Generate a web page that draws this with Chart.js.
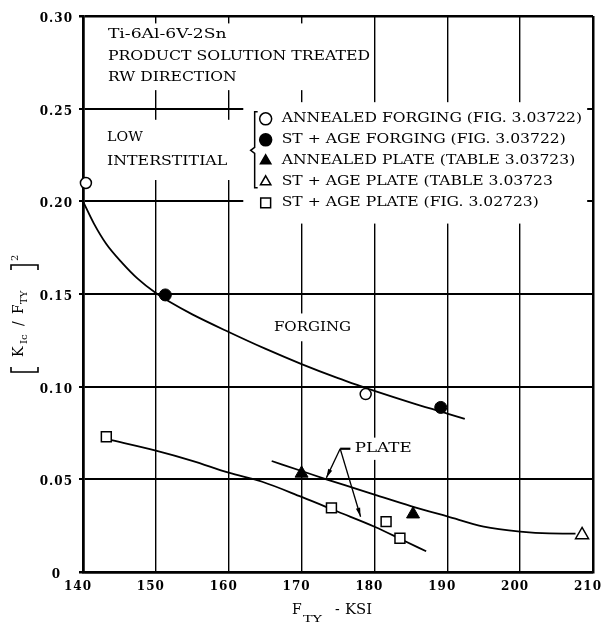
<!DOCTYPE html>
<html lang="en">
<head>
<meta charset="UTF-8">
<title>Ti-6Al-6V-2Sn - (KIc/FTY)^2 vs FTY</title>
<script src="https://cdn.jsdelivr.net/npm/chart.js@4.4.1/dist/chart.umd.min.js"></script>
<style>
    body { margin: 0; background: #fff; }
    canvas { display: block; }
</style>
</head>
<body>
<canvas id="grafico" width="602" height="624"></canvas>
<script>
    // eixo x: F_TY (ksi), eixo y: (KIc/FTY)^2
    var xTicks = [140, 150, 160, 170, 180, 190, 200, 210];
    var yTicks = [0, 0.05, 0.10, 0.15, 0.20, 0.25, 0.30];

    // pontos medidos
    var annealedForgingX = [140.4, 178.8];
    var annealedForgingY = [0.2099, 0.0960];
    var stAgeForgingX = [151.3, 189.1];
    var stAgeForgingY = [0.1495, 0.0888];
    var annealedPlateX = [170.0, 185.3];
    var annealedPlateY = [0.0532, 0.0312];
    var stAgePlateTabX = [208.5];
    var stAgePlateTabY = [0.0200];
    var stAgePlateFigX = [143.2, 174.1, 181.6, 183.5];
    var stAgePlateFigY = [0.0730, 0.0346, 0.0272, 0.0182];

    // curvas tracadas a mao
    var forgingCurveX = [140, 141.5, 143.2, 145.4, 147.5, 150, 152, 155, 160, 165, 170, 175, 178, 180, 185, 190, 192.4];
    var forgingCurveY = [0.200, 0.188, 0.177, 0.1667, 0.1583, 0.1505, 0.1455, 0.139, 0.1295, 0.1205, 0.1122, 0.1046, 0.1004, 0.0977, 0.0914, 0.0855, 0.0826];
    var plateUpperX = [165.9, 170, 173.4, 177, 180, 185, 190, 195, 200, 204, 207.6];
    var plateUpperY = [0.0599, 0.0545, 0.0500, 0.0455, 0.0418, 0.0356, 0.0300, 0.0245, 0.0218, 0.0208, 0.0207];
    var plateLowerX = [143.5, 150, 155, 160, 164.6, 170, 175, 180.1, 184, 187.1];
    var plateLowerY = [0.0715, 0.0655, 0.0600, 0.0536, 0.0487, 0.0405, 0.0325, 0.0243, 0.0170, 0.0112];

    function pontos(xs, ys) {
        return xs.map(function (x, i) { return { x: x, y: ys[i] }; });
    }

    var fonte = '"DejaVu Serif", "Liberation Serif", serif';

    // caixas brancas por tras dos textos [x0, x1, y0, y1] em unidades do grafico
    var caixasBrancas = [
        [142.2, 179.6, 0.2600, 0.2960],
        [142.2, 161.8, 0.2115, 0.2440],
        [162.0, 209.2, 0.1880, 0.2535],
        [165.6, 177.4, 0.1245, 0.1395],
        [175.1, 185.5, 0.0605, 0.0725]
    ];
    // textos [texto, x inicio, x fim, y]
    var notas = [
        ['Ti-6Al-6V-2Sn', 143.42, 159.7, 0.2898],
        ['PRODUCT SOLUTION TREATED', 143.42, 179.4, 0.2779],
        ['RW DIRECTION', 143.42, 161.1, 0.2666],
        ['LOW', 143.3, 148.2, 0.2342],
        ['INTERSTITIAL', 143.3, 159.8, 0.2213],
        ['FORGING', 166.2, 176.8, 0.1317],
        ['PLATE', 177.3, 185.1, 0.0665]
    ];
    var plateTraco = [175.3, 176.7, 0.0665];
    var plateSetas = [[173.4, 0.0508], [178.1, 0.0298]];

    function textoAjustado(ctx, txt, x, y, largura) {
        var m = ctx.measureText(txt).width;
        ctx.save();
        ctx.translate(x, y);
        ctx.scale(largura / m, 1);
        ctx.fillText(txt, 0, 0);
        ctx.restore();
    }

    function marcador(ctx, estilo, cheio, x, y, r) {
        ctx.beginPath();
        if (estilo === 'circle') {
            ctx.arc(x, y, r, 0, Math.PI * 2);
        } else if (estilo === 'triangle') {
            var w = r * Math.sqrt(3) / 2;
            ctx.moveTo(x, y - r);
            ctx.lineTo(x + w, y + r / 2);
            ctx.lineTo(x - w, y + r / 2);
            ctx.closePath();
        } else {
            var s = r * Math.SQRT1_2;
            ctx.rect(x - s, y - s, 2 * s, 2 * s);
        }
        ctx.fillStyle = cheio ? '#000' : '#fff';
        ctx.fill();
        ctx.lineWidth = 1.5;
        ctx.strokeStyle = '#000';
        ctx.stroke();
    }

    var anotacoes = {
        id: 'anotacoes',
        // rotulos dos eixos um pouco mais espacados, como na figura
        beforeUpdate: function (chart) { chart.ctx.letterSpacing = '1px'; },
        beforeDraw: function (chart) { chart.ctx.letterSpacing = '1px'; },
        beforeDatasetsDraw: function (chart) {
            var ctx = chart.ctx;
            var xs = chart.scales.x, ys = chart.scales.y;
            function px(v) { return xs.getPixelForValue(v); }
            function py(v) { return ys.getPixelForValue(v); }

            ctx.save();
            ctx.letterSpacing = '0px';
            ctx.fillStyle = '#fff';
            caixasBrancas.forEach(function (c) {
                ctx.fillRect(px(c[0]), py(c[3]), px(c[1]) - px(c[0]), py(c[2]) - py(c[3]));
            });

            ctx.fillStyle = '#000';
            ctx.textBaseline = 'middle';
            ctx.textAlign = 'left';
            ctx.font = '13px ' + fonte;
            notas.forEach(function (n) {
                textoAjustado(ctx, n[0], px(n[1]), py(n[3]), px(n[2]) - px(n[1]));
            });

            // traco e setas do PLATE
            ctx.strokeStyle = '#000';
            ctx.lineWidth = 2.2;
            ctx.beginPath();
            ctx.moveTo(px(plateTraco[0]), py(plateTraco[2]));
            ctx.lineTo(px(plateTraco[1]), py(plateTraco[2]));
            ctx.stroke();
            var x0 = px(plateTraco[0]), y0 = py(plateTraco[2]);
            ctx.lineWidth = 1.3;
            plateSetas.forEach(function (s) {
                var x1 = px(s[0]), y1 = py(s[1]);
                var ang = Math.atan2(y1 - y0, x1 - x0);
                ctx.beginPath();
                ctx.moveTo(x0, y0);
                ctx.lineTo(x1, y1);
                ctx.stroke();
                ctx.beginPath();
                ctx.moveTo(x1, y1);
                ctx.lineTo(x1 - 9 * Math.cos(ang) + 2.2 * Math.sin(ang), y1 - 9 * Math.sin(ang) - 2.2 * Math.cos(ang));
                ctx.lineTo(x1 - 9 * Math.cos(ang) - 2.2 * Math.sin(ang), y1 - 9 * Math.sin(ang) + 2.2 * Math.cos(ang));
                ctx.closePath();
                ctx.fill();
            });

            // legenda
            var lx = px(163.15), ly = py(0.2445), passo = 21;
            ctx.lineWidth = 1.5;
            ctx.beginPath();
            ctx.moveTo(lx + 6, ly - 7);
            ctx.lineTo(lx + 3, ly - 7);
            ctx.lineTo(lx + 3, ly + 1.5 * passo - 3);
            ctx.lineTo(lx - 1, ly + 1.5 * passo);
            ctx.lineTo(lx + 3, ly + 1.5 * passo + 3);
            ctx.lineTo(lx + 3, ly + 3 * passo + 6);
            ctx.lineTo(lx + 6, ly + 3 * passo + 6);
            ctx.stroke();

            var itens = chart.data.datasets.filter(function (d) { return !d.showLine; });
            var escala = (px(208.5) - (lx + 30)) / ctx.measureText(itens[0].label).width;
            itens.forEach(function (d, i) {
                var y = ly + i * passo;
                marcador(ctx, d.pointStyle, d.pointBackgroundColor === '#000', lx + 14, y, d.pointStyle === 'rect' ? 7 : 6);
                ctx.fillStyle = '#000';
                ctx.save();
                ctx.translate(lx + 30, y);
                ctx.scale(escala, 1);
                ctx.fillText(d.label, 0, 0);
                ctx.restore();
            });
            ctx.restore();
        },
        afterDraw: function (chart) {
            var ctx = chart.ctx;
            ctx.save();
            ctx.letterSpacing = '0px';
            ctx.fillStyle = '#000';
            ctx.strokeStyle = '#000';
            ctx.textBaseline = 'alphabetic';
            ctx.textAlign = 'left';

            // titulo do eixo y, girado
            ctx.save();
            ctx.translate(0, 376);
            ctx.rotate(-Math.PI / 2);
            ctx.lineWidth = 1.6;
            ctx.beginPath();
            ctx.moveTo(9, 11); ctx.lineTo(4, 11); ctx.lineTo(4, 38); ctx.lineTo(9, 38);
            ctx.moveTo(106, 11); ctx.lineTo(111, 11); ctx.lineTo(111, 38); ctx.lineTo(106, 38);
            ctx.stroke();
            ctx.font = '14px ' + fonte;
            ctx.fillText('K', 19, 23);
            ctx.fillText('/', 50, 23);
            ctx.fillText('F', 62, 23);
            ctx.font = '10px ' + fonte;
            ctx.fillText('Ic', 32, 27);
            ctx.fillText('TY', 72, 27);
            ctx.fillText('2', 115, 18);
            ctx.restore();

            // titulo do eixo x
            ctx.font = '14px ' + fonte;
            ctx.fillText('F', 292, 614);
            ctx.fillText('-', 335, 614);
            textoAjustado(ctx, 'KSI', 345, 614, 27);
            ctx.font = '10px ' + fonte;
            textoAjustado(ctx, 'TY', 303, 622, 19);
            ctx.restore();
        }
    };

    function larguraGrade(ctx, forte) {
        var v = ctx.tick ? ctx.tick.value : null;
        return (ctx.index === 0 || v === ctx.scale.max) ? 2.5 : forte;
    }

    var grafico = new Chart(document.getElementById('grafico'), {
        type: 'scatter',
        data: {
            datasets: [
                {
                    label: 'ANNEALED FORGING (FIG. 3.03722)',
                    data: pontos(annealedForgingX, annealedForgingY),
                    pointStyle: 'circle', pointRadius: 5.5,
                    pointBackgroundColor: '#fff', pointBorderColor: '#000', pointBorderWidth: 1.5,
                    showLine: false, clip: false, order: 0
                },
                {
                    label: 'ST + AGE FORGING (FIG. 3.03722)',
                    data: pontos(stAgeForgingX, stAgeForgingY),
                    pointStyle: 'circle', pointRadius: 6,
                    pointBackgroundColor: '#000', pointBorderColor: '#000', pointBorderWidth: 1,
                    showLine: false, clip: false, order: 0
                },
                {
                    label: 'ANNEALED PLATE (TABLE 3.03723)',
                    data: pontos(annealedPlateX, annealedPlateY),
                    pointStyle: 'triangle', pointRadius: 7.5,
                    pointBackgroundColor: '#000', pointBorderColor: '#000', pointBorderWidth: 1,
                    showLine: false, clip: false, order: 0
                },
                {
                    label: 'ST + AGE PLATE (TABLE 3.03723',
                    data: pontos(stAgePlateTabX, stAgePlateTabY),
                    pointStyle: 'triangle', pointRadius: 7.5,
                    pointBackgroundColor: '#fff', pointBorderColor: '#000', pointBorderWidth: 1.5,
                    showLine: false, clip: false, order: 0
                },
                {
                    label: 'ST + AGE PLATE (FIG. 3.02723)',
                    data: pontos(stAgePlateFigX, stAgePlateFigY),
                    pointStyle: 'rect', pointRadius: 7,
                    pointBackgroundColor: '#fff', pointBorderColor: '#000', pointBorderWidth: 1.5,
                    showLine: false, clip: false, order: 0
                },
                {
                    label: 'forging',
                    data: pontos(forgingCurveX, forgingCurveY),
                    showLine: true, pointRadius: 0, borderColor: '#000', borderWidth: 1.8,
                    cubicInterpolationMode: 'monotone', clip: false, order: 1
                },
                {
                    label: 'plate',
                    data: pontos(plateUpperX, plateUpperY),
                    showLine: true, pointRadius: 0, borderColor: '#000', borderWidth: 1.8,
                    cubicInterpolationMode: 'monotone', clip: false, order: 1
                },
                {
                    label: 'plate 2',
                    data: pontos(plateLowerX, plateLowerY),
                    showLine: true, pointRadius: 0, borderColor: '#000', borderWidth: 1.8,
                    cubicInterpolationMode: 'monotone', clip: false, order: 1
                }
            ]
        },
        options: {
            responsive: false,
            animation: false,
            devicePixelRatio: 1,
            layout: { padding: { left: 0, top: 16, right: 8, bottom: 0 } },
            plugins: {
                legend: { display: false },
                tooltip: { enabled: false }
            },
            scales: {
                x: {
                    type: 'linear',
                    min: xTicks[0], max: xTicks[xTicks.length - 1],
                    afterBuildTicks: function (s) { s.ticks = xTicks.map(function (v) { return { value: v }; }); },
                    afterFit: function (s) { s.height = 52; s.paddingLeft = 0; s.paddingRight = 0; },
                    ticks: {
                        color: '#000', padding: 8, labelOffset: -5,
                        font: { family: fonte, size: 12, weight: 'bold' }
                    },
                    grid: {
                        color: '#000', drawTicks: false,
                        lineWidth: function (c) { return larguraGrade(c, 1.4); }
                    },
                    border: { color: '#000', width: 2.5 }
                },
                y: {
                    min: yTicks[0], max: yTicks[yTicks.length - 1],
                    afterBuildTicks: function (s) { s.ticks = yTicks.map(function (v) { return { value: v }; }); },
                    afterFit: function (s) { s.width = 83; },
                    ticks: {
                        color: '#000', padding: 6, crossAlign: 'center', labelOffset: 3,
                        font: { family: fonte, size: 12, weight: 'bold' },
                        callback: function (v) { return v === 0 ? '0' : v.toFixed(2); }
                    },
                    grid: {
                        color: '#000', drawTicks: true, tickLength: 4,
                        lineWidth: function (c) { return larguraGrade(c, 2); }
                    },
                    border: { color: '#000', width: 2.5 }
                }
            }
        },
        plugins: [anotacoes]
    });
</script>
</body>
</html>
